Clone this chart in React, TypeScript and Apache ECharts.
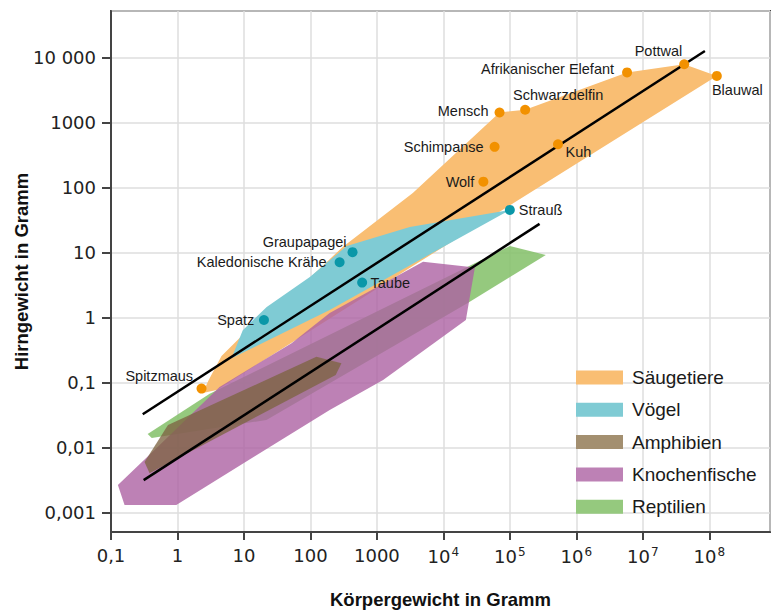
import React, { useEffect, useRef } from "react";
import * as echarts from "echarts";

// ---------- data (body weight g, brain weight g) ----------
const mammalNames = ["Spitzmaus", "Wolf", "Schimpanse", "Mensch", "Schwarzdelfin", "Kuh", "Afrikanischer Elefant", "Pottwal", "Blauwal"];
const mammalBody = [2.3, 40000, 59000, 70000, 170000, 530000, 5.8e6, 4.2e7, 1.3e8];
const mammalBrain = [0.082, 125, 430, 1450, 1600, 470, 6000, 8000, 5300];

const birdNames = ["Spatz", "Kaledonische Krähe", "Graupapagei", "Taube", "Strauß"];
const birdBody = [20, 275, 430, 600, 100000];
const birdBrain = [0.93, 7.2, 10.3, 3.5, 46];

const mammalRange = [[2.4, 0.07], [2.95, 0.111], [4.6, 0.26], [8.6, 0.49], [22, 1.33], [91, 3.85], [306, 12.4], [3470, 84], [70000, 1450], [170000, 1600], [5.8e6, 6000], [4.2e7, 8000], [1.3e8, 5300], [3470, 6.3], [3.9, 0.078]];
const birdRange = [[6.5, 0.24], [9.6, 0.65], [22, 1.48], [98, 4.27], [352, 12.8], [3130, 25], [100000, 46], [195, 1.33]];
const reptileRange = [[0.356, 0.0164], [3.05, 0.068], [100000, 12.8], [348000, 9.3], [23300, 1.7], [21.8, 0.027], [0.41, 0.0143]];
const fishRange = [[0.127, 0.0027], [0.16, 0.00133], [0.96, 0.00133], [195, 0.0384], [1240, 0.111], [21800, 0.93], [29800, 6.0], [4950, 7.35], [195, 1.19], [52, 0.41], [4.3, 0.087], [0.54, 0.0111]];
const amphibianRange = [[0.32, 0.0061], [0.72, 0.0226], [123, 0.254], [293, 0.201], [240, 0.133], [0.38, 0.0041]];

const upperFit = [[0.3, 0.033], [8.6e7, 12800]];
const lowerFit = [[0.31, 0.0032], [2.8e5, 28]];

const groupNames = ["Säugetiere", "Vögel", "Amphibien", "Knochenfische", "Reptilien"];

const yTickLabels: Record<string, string> = { "-3": "0,001", "-2": "0,01", "-1": "0,1", "0": "1", "1": "10", "2": "100", "3": "1000", "4": "10 000" };
const xTickLabels: Record<string, string> = { "-1": "0,1", "0": "1", "1": "10", "2": "100", "3": "1000", "4": "10{s|4}", "5": "10{s|5}", "6": "10{s|6}", "7": "10{s|7}", "8": "10{s|8}" };

// ---------- styling ----------
const labelFont = "'Liberation Sans', Arial, sans-serif";
const tickFont = "'DejaVu Sans', sans-serif";
const titleFont = "'Liberation Sans', Arial, sans-serif";

const labelPlace: Record<string, any> = {
  Spitzmaus: { position: "left", distance: 3.4, offset: [0, -13] },
  Wolf: { position: "left", distance: 4 },
  Schimpanse: { position: "left", distance: 6 },
  Mensch: { position: "left", distance: 6, offset: [0, -1.5] },
  Schwarzdelfin: { position: "top", distance: 2, offset: [33, 0] },
  Kuh: { position: "right", distance: 2.5, offset: [0, 7.7] },
  "Afrikanischer Elefant": { position: "left", distance: 8, offset: [0, -3] },
  Pottwal: { position: "left", distance: 5, offset: [8, -13] },
  Blauwal: { position: "bottom", distance: 2, offset: [20.5, 0] },
  Spatz: { position: "left", distance: 4.7 },
  "Kaledonische Krähe": { position: "left", distance: 8 },
  Graupapagei: { position: "left", distance: 1, offset: [0, -10.6] },
  Taube: { position: "right", distance: 3.4 },
  Strauß: { position: "right", distance: 4 },
};

function polySeries(name: string, poly: number[][], legendColor: string, fill: string, opacity: number, z: number) {
  return {
    type: "custom",
    name,
    coordinateSystem: "cartesian2d",
    silent: true,
    z,
    itemStyle: { color: legendColor },
    data: [poly[0]],
    renderItem: (_params: any, api: any) => ({
      type: "polygon",
      shape: { points: poly.map((p) => api.coord(p)) },
      style: { fill, opacity },
    }),
  };
}

function pointSeries(names: string[], xs: number[], ys: number[], color: string) {
  return {
    type: "scatter",
    silent: true,
    z: 5,
    symbolSize: 10,
    itemStyle: { color, opacity: 1 },
    label: { show: true, formatter: "{b}", fontFamily: labelFont, fontSize: 14.5, color: "#1a1a1a" },
    data: names.map((n, i) => ({ name: n, value: [xs[i], ys[i]], label: labelPlace[n] })),
  };
}

function lineSeries(d: number[][]) {
  return {
    type: "line",
    silent: true,
    z: 4,
    symbol: "none",
    lineStyle: { color: "#000", width: 2.5 },
    data: d,
  };
}

function logKey(v: number) {
  const l = Math.log10(v);
  const r = Math.round(l);
  return Math.abs(l - r) < 1e-6 ? String(r) : null;
}

export default function App() {
  const ref = useRef<HTMLDivElement>(null);
  useEffect(() => {
    if (!ref.current) return;
    const chart = echarts.init(ref.current, null, { renderer: "svg" });
    chart.setOption({
      animation: false,
      backgroundColor: "#fff",
      grid: { left: 111, right: 1, top: 11, bottom: 81, show: true, borderColor: "#444", borderWidth: 2, outerBoundsMode: "none" },
      legend: {
        data: groupNames,
        orient: "vertical",
        left: 576,
        top: 368,
        padding: 0,
        icon: "rect",
        itemWidth: 47,
        itemHeight: 14,
        itemGap: 13.3,
        selectedMode: false,
        textStyle: { fontFamily: labelFont, fontSize: 19, lineHeight: 19, color: "#1a1a1a", padding: [0, 0, 0, 4] },
      },
      xAxis: {
        type: "log",
        logBase: 10,
        min: 0.1,
        max: 8.2e8,
        name: "Körpergewicht in Gramm",
        nameLocation: "middle",
        nameGap: 58,
        nameMoveOverlap: false,
        nameTextStyle: { fontFamily: titleFont, fontWeight: "bold", fontSize: 18.5, color: "#111" },
        axisLine: { lineStyle: { color: "#444", width: 2 } },
        axisTick: { length: 8, lineStyle: { color: "#444", width: 2 } },
        splitLine: { show: true, lineStyle: { color: "#dedede", width: 1.5 } },
        minorTick: { show: false },
        axisLabel: {
          margin: 14,
          fontFamily: tickFont,
          fontSize: 18,
          color: "#222",
          showMaxLabel: false,
          formatter: (v: number) => {
            const k = logKey(v);
            return k !== null && xTickLabels[k] ? xTickLabels[k] : "";
          },
          rich: {
            s: { fontFamily: tickFont, fontSize: 12, color: "#222", verticalAlign: "bottom", padding: [0, 0, 9, 1] },
          },
        },
      },
      yAxis: {
        type: "log",
        logBase: 10,
        min: 0.00051,
        max: 52800,
        name: "Hirngewicht in Gramm",
        nameLocation: "middle",
        nameGap: 80,
        nameMoveOverlap: false,
        nameTextStyle: { fontFamily: titleFont, fontWeight: "bold", fontSize: 18.5, color: "#111" },
        axisLine: { lineStyle: { color: "#444", width: 2 } },
        axisTick: { length: 9, lineStyle: { color: "#444", width: 2 } },
        splitLine: { show: true, lineStyle: { color: "#dedede", width: 1.5 } },
        axisLabel: {
          margin: 15,
          fontFamily: tickFont,
          fontSize: 18,
          color: "#222",
          showMinLabel: false,
          showMaxLabel: false,
          formatter: (v: number) => {
            const k = logKey(v);
            return k !== null && yTickLabels[k] ? yTickLabels[k] : "";
          },
        },
      },
      series: [
        polySeries("Säugetiere", mammalRange, "#F9BE73", "#F9BE73", 1, 2),
        polySeries("Vögel", birdRange, "#7FCBD4", "#7FCBD4", 1, 2),
        polySeries("Reptilien", reptileRange, "#95C97E", "#82BF67", 0.85, 2),
        polySeries("Knochenfische", fishRange, "#BD81B5", "#AC61A2", 0.8, 2),
        polySeries("Amphibien", amphibianRange, "#A38F70", "#7E6442", 0.78, 2),
        lineSeries(upperFit),
        lineSeries(lowerFit),
        pointSeries(mammalNames, mammalBody, mammalBrain, "#F29100"),
        pointSeries(birdNames, birdBody, birdBrain, "#0A97A8"),
      ],
    });
    return () => chart.dispose();
  }, []);
  return <div ref={ref} style={{ position: "fixed", left: 0, top: 0, width: 771, height: 613, background: "#fff" }} />;
}
